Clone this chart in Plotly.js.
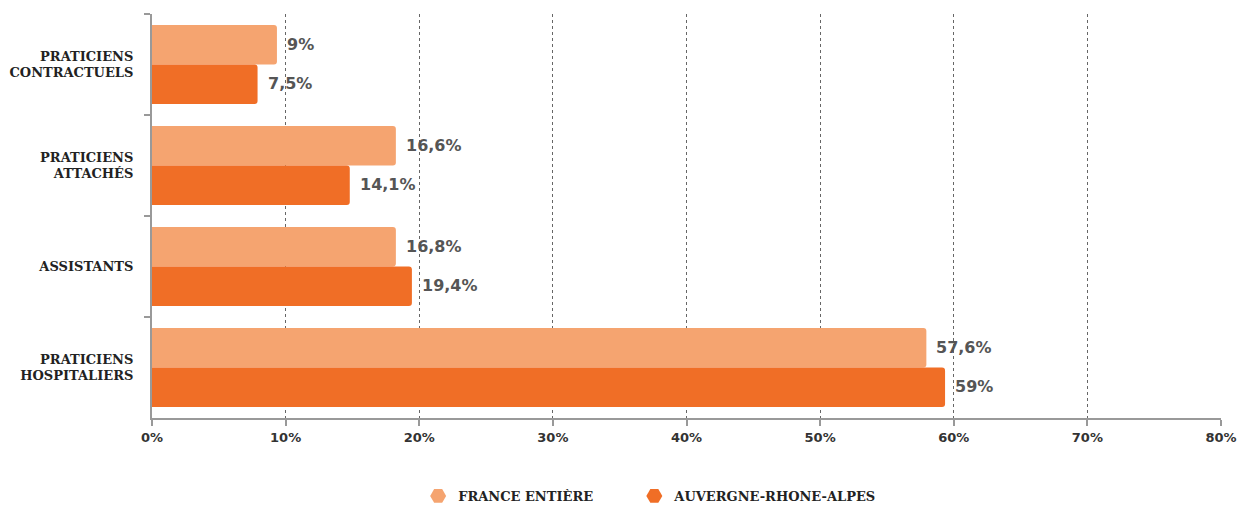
<!DOCTYPE html>
<html><head><meta charset="utf-8">
<script src="https://cdn.plot.ly/plotly-3.0.1.min.js"></script>
<style>body{margin:0;background:#fff}#chart{width:1238px;height:506px}</style>
</head><body><div id="chart"></div>
<script>
const categories = ["PRATICIENS<br>CONTRACTUELS", "PRATICIENS<br>ATTACHÉS", "ASSISTANTS", "PRATICIENS<br>HOSPITALIERS"];
const seriesNames = ["FRANCE ENTIÈRE", "AUVERGNE-RHONE-ALPES"];
const franceBars = [9.35, 18.25, 18.25, 57.95];
const auraBars = [7.9, 14.8, 19.45, 59.35];
const franceLabels = ["9%", "16,6%", "16,8%", "57,6%"];
const auraLabels = ["7,5%", "14,1%", "19,4%", "59%"];
const tickVals = [0, 10, 20, 30, 40, 50, 60, 70, 80];
const tickText = ["0%", "10%", "20%", "30%", "40%", "50%", "60%", "70%", "80%"];
const colors = ["#F5A470", "#F06E26"];

const slab = "'DejaVu Serif', serif";
const sans = "'DejaVu Sans', sans-serif";

const traces = [
  {type:"bar", orientation:"h", y:categories, x:franceBars, name:seriesNames[0],
   marker:{color:colors[0]}, showlegend:false, hoverinfo:"none"},
  {type:"bar", orientation:"h", y:categories, x:auraBars, name:seriesNames[1],
   marker:{color:colors[1]}, showlegend:false, hoverinfo:"none"},
  {type:"scatter", mode:"markers", x:[null], y:[null], name:seriesNames[0] + "        ",
   marker:{symbol:"hexagon2", size:19, color:colors[0]}},
  {type:"scatter", mode:"markers", x:[null], y:[null], name:seriesNames[1],
   marker:{symbol:"hexagon2", size:19, color:colors[1]}}
];

const labelFont = {family:sans, size:16, color:"#555", weight:700};
const annotations = [];
categories.forEach((c, i) => {
  annotations.push({x:franceBars[i], y:i, yshift:20, xref:"x", yref:"y", text:franceLabels[i],
    showarrow:false, xanchor:"left", xshift:8, font:labelFont});
  annotations.push({x:auraBars[i], y:i, yshift:-19, xref:"x", yref:"y", text:auraLabels[i],
    showarrow:false, xanchor:"left", xshift:8, font:labelFont});
});

const layout = {
  width:1238, height:506,
  margin:{l:152, r:17, t:14, b:88, autoexpand:false},
  paper_bgcolor:"#fff", plot_bgcolor:"#fff",
  barmode:"group", bargap:0.22, bargroupgap:0, barcornerradius:3,
  xaxis:{range:[0,80], tickvals:tickVals, ticktext:tickText, showgrid:true,
    gridcolor:"#666", griddash:"3px,3px", gridwidth:1, zeroline:false,
    showline:true, linecolor:"#999", linewidth:2, ticks:"outside", ticklen:6, tickcolor:"#999", tickwidth:2,
    tickfont:{family:sans, size:13, color:"#333", weight:700}, fixedrange:true},
  yaxis:{type:"category", autorange:"reversed", tickson:"boundaries", ticks:"outside", ticklen:6,
    tickcolor:"#999", tickwidth:2, showline:true, linecolor:"#999", linewidth:2, showgrid:false,
    ticklabelstandoff:14,
    tickfont:{family:slab, size:13, color:"#222", weight:700}, fixedrange:true},
  legend:{orientation:"h", x:0.466, xanchor:"center", y:-0.193, yanchor:"middle",
    font:{family:slab, size:13, color:"#222", weight:700}, itemwidth:30, traceorder:"normal",
    borderwidth:0, bgcolor:"rgba(0,0,0,0)"},
  annotations:annotations,
  showlegend:true
};

Plotly.newPlot("chart", traces, layout, {displayModeBar:false, staticPlot:true});
</script></body></html>
